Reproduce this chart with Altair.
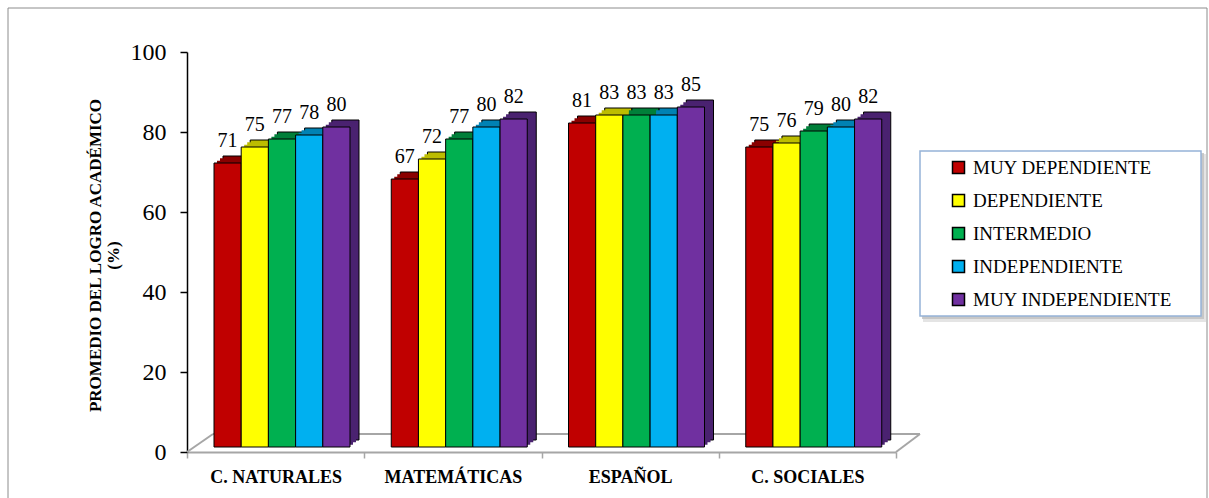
import altair as alt
import pandas as pd

# Average academic achievement (%) by subject and autonomy level
subjects = ["C. NATURALES", "MATEMÁTICAS", "ESPAÑOL", "C. SOCIALES"]
levels = ["MUY DEPENDIENTE", "DEPENDIENTE", "INTERMEDIO", "INDEPENDIENTE", "MUY INDEPENDIENTE"]

muy_dependiente = [71, 67, 81, 75]
dependiente = [75, 72, 83, 76]
intermedio = [77, 77, 83, 79]
independiente = [78, 80, 83, 80]
muy_independiente = [80, 82, 85, 82]

front_colors = ["#C00000", "#FFFF00", "#00B050", "#00B0F0", "#7030A0"]
shade_colors = ["#8A0000", "#BDBD00", "#007F3A", "#0082B4", "#4A2270"]

y_ticks = [0, 20, 40, 60, 80, 100]

series = [muy_dependiente, dependiente, intermedio, independiente, muy_independiente]
rows = []
for level, values in zip(levels, series):
    for subject, v in zip(subjects, values):
        rows.append({"materia": subject, "nivel": level, "valor": v})
df = pd.DataFrame(rows)

W, H = 709, 400
FONT = "Liberation Serif"
GREY = "#A6A6A6"
GROUP_START, GROUP_END = 27, 163   # bar group extent inside each subject band (px)
BAR_W = (GROUP_END - GROUP_START) / len(levels)
DEPTH_X, DEPTH_Y = 9, 7            # 3D depth of each bar, in pixels
BASE_LIFT = 5                      # bars stand slightly above the floor's front edge

x_enc = alt.X(
    "materia:N",
    sort=subjects,
    scale=alt.Scale(paddingInner=0, paddingOuter=0),
    axis=alt.Axis(
        title=None,
        labelAngle=0,
        labelFont=FONT,
        labelFontSize=18,
        labelFontWeight="bold",
        labelColor="black",
        labelPadding=10,
        tickBand="extent",
        tickSize=6,
        tickColor=GREY,
        tickWidth=1.5,
        domainColor=GREY,
        domainWidth=2,
    ),
)

y_enc = alt.Y(
    "valor:Q",
    scale=alt.Scale(domain=[0, 100], nice=False),
    axis=alt.Axis(
        values=y_ticks,
        grid=False,
        title=["PROMEDIO DEL LOGRO  ACADÉMICO", "(%)"],
        titleFont=FONT,
        titleFontSize=17,
        titleFontWeight="bold",
        titleColor="black",
        titleX=-100,
        titleY=203,
        titleAlign="center",
        titleBaseline="top",
        titleLineHeight=18,
        labelFont=FONT,
        labelFontSize=24,
        labelColor="black",
        labelPadding=14,
        tickSize=7,
        tickColor="black",
        tickWidth=1.5,
        domainColor="black",
        domainWidth=1.5,
    ),
)


def level_offset(shift):
    # grouped position of each level inside its subject band, moved right by `shift` px
    return alt.XOffset(
        "nivel:N", sort=levels,
        scale=alt.Scale(domain=levels, range=[GROUP_START + shift, GROUP_END + shift],
                        paddingInner=0, paddingOuter=0),
    )


# centre of each bar's front face, for the value labels
label_offset = alt.XOffset(
    "nivel:N", sort=levels,
    scale=alt.Scale(type="point", domain=levels, padding=0,
                    range=[GROUP_START + BAR_W / 2, GROUP_END - BAR_W / 2]),
)

shade_color = alt.Color("nivel:N", sort=levels,
                        scale=alt.Scale(domain=levels, range=shade_colors), legend=None)

base = alt.Chart(df)

# back block of each 3D bar (top face and right side)
shade = base.mark_bar(
    stroke="black", strokeWidth=1,
    yOffset=-(BASE_LIFT + DEPTH_Y), y2Offset=-(BASE_LIFT + DEPTH_Y),
).encode(x=x_enc, xOffset=level_offset(DEPTH_X), y=y_enc, color=shade_color)

# in-between blocks that fill the slanted corner of the top face
bevel_layers = []
for frac in (1 / 3, 2 / 3):
    dy = BASE_LIFT + DEPTH_Y * frac
    bevel_layers.append(
        base.mark_bar(yOffset=-dy, y2Offset=-dy).encode(
            x=x_enc, xOffset=level_offset(DEPTH_X * frac), y=y_enc, color=shade_color)
    )

front = base.mark_bar(
    stroke="black", strokeWidth=1, yOffset=-BASE_LIFT, y2Offset=-BASE_LIFT
).encode(
    x=x_enc,
    xOffset=level_offset(0),
    y=y_enc,
    color=alt.Color(
        "nivel:N", sort=levels,
        scale=alt.Scale(domain=levels, range=front_colors),
        legend=alt.Legend(
            title=None,
            orient="none",
            legendX=762,
            legendY=106,
            padding=0,
            symbolType="square",
            symbolSize=144,
            symbolStrokeColor="black",
            symbolStrokeWidth=1.5,
            labelFont=FONT,
            labelFontSize=19,
            labelColor="black",
            labelOffset=5,
            labelLimit=400,
            rowPadding=13,
        ),
    ),
)

labels = base.mark_text(
    font=FONT, fontSize=20, color="black", baseline="alphabetic", dy=-21
).encode(
    x=x_enc,
    xOffset=label_offset,
    y=y_enc,
    text=alt.Text("valor:Q"),
)

one = alt.Chart(pd.DataFrame({"k": [0]}))

# floor of the 3D plot
floor_back = one.mark_rule(color=GREY, strokeWidth=2).encode(
    x=alt.value(26), x2=alt.value(733), y=alt.value(382))
floor_left = one.mark_rule(color=GREY, strokeWidth=2).encode(
    x=alt.value(0), x2=alt.value(26), y=alt.value(400), y2=alt.value(382))
floor_right = one.mark_rule(color=GREY, strokeWidth=2).encode(
    x=alt.value(709), x2=alt.value(733), y=alt.value(400), y2=alt.value(382))

# outer frame and legend box with drop shadow
frame = one.mark_rect(fillOpacity=0, stroke="#8C8C8C", strokeWidth=1).encode(
    x=alt.value(-179), x2=alt.value(1020), y=alt.value(-44), y2=alt.value(470))
shadow_outer = one.mark_rect(fill="#D9D9D9", opacity=0.7).encode(
    x=alt.value(736), x2=alt.value(1019), y=alt.value(102), y2=alt.value(270))
shadow_inner = one.mark_rect(fill="#BFBFBF", opacity=0.8).encode(
    x=alt.value(735), x2=alt.value(1017), y=alt.value(101), y2=alt.value(267))
legend_box = one.mark_rect(fill="white", stroke="#95B3D7", strokeWidth=1.5).encode(
    x=alt.value(733), x2=alt.value(1014), y=alt.value(99), y2=alt.value(264))

chart = alt.layer(
    frame, floor_back, floor_left, floor_right,
    shadow_outer, shadow_inner, legend_box,
    shade, *bevel_layers, front, labels,
).resolve_scale(
    xOffset="independent", color="independent"
).properties(
    width=W,
    height=H,
    padding={"left": 187, "top": 52, "right": 313, "bottom": 46},
    autosize=alt.AutoSizeParams(type="none"),
    background="white",
).configure_view(stroke=None)

chart.save("out.html", embed_options={"renderer": "svg", "actions": False})
